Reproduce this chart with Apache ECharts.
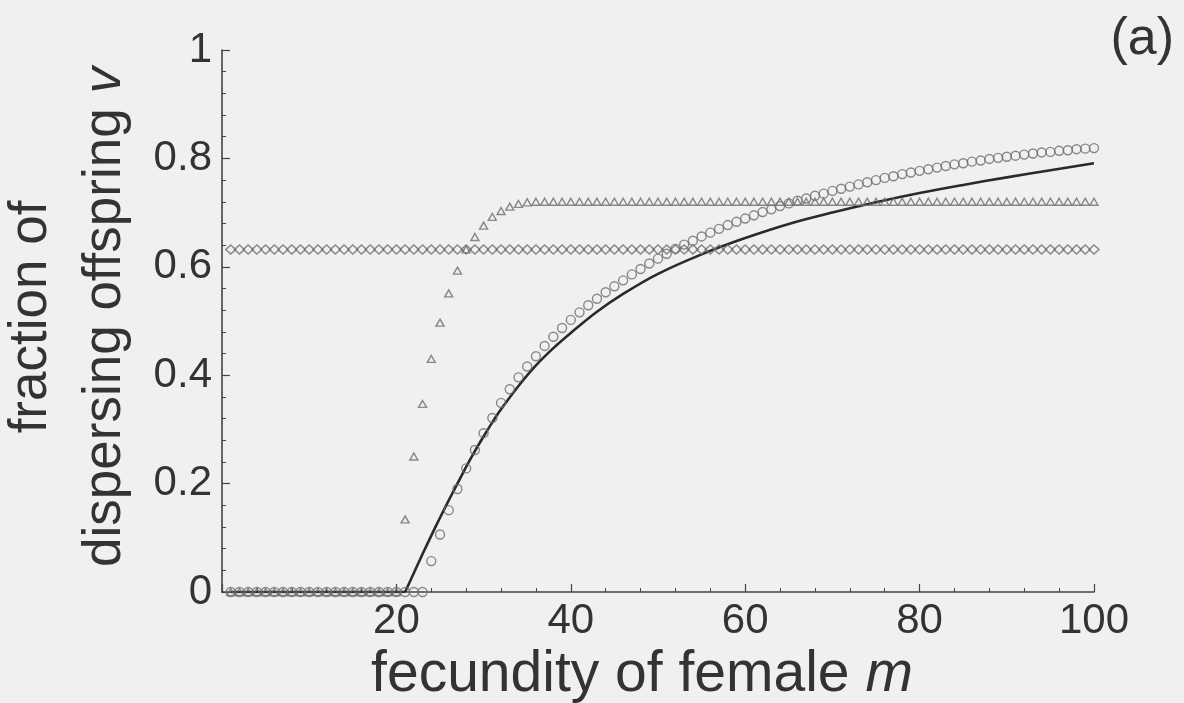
<!DOCTYPE html>
<html>
<head>
<meta charset="utf-8">
<script src="https://cdn.jsdelivr.net/npm/echarts@6/dist/echarts.min.js"></script>
<style>
html,body{margin:0;padding:0;background:#f1eff1;}
#chart{width:1184px;height:703px;}
</style>
</head>
<body>
<div id="chart"></div>
<script>
// fecundity m runs 1..100 (one value per m in each marker series)
const mStart = 1;

// diamonds: constant dispersal fraction
const diamondValues = [
0.632,0.632,0.632,0.632,0.632,0.632,0.632,0.632,0.632,0.632,
0.632,0.632,0.632,0.632,0.632,0.632,0.632,0.632,0.632,0.632,
0.632,0.632,0.632,0.632,0.632,0.632,0.632,0.632,0.632,0.632,
0.632,0.632,0.632,0.632,0.632,0.632,0.632,0.632,0.632,0.632,
0.632,0.632,0.632,0.632,0.632,0.632,0.632,0.632,0.632,0.632,
0.632,0.632,0.632,0.632,0.632,0.632,0.632,0.632,0.632,0.632,
0.632,0.632,0.632,0.632,0.632,0.632,0.632,0.632,0.632,0.632,
0.632,0.632,0.632,0.632,0.632,0.632,0.632,0.632,0.632,0.632,
0.632,0.632,0.632,0.632,0.632,0.632,0.632,0.632,0.632,0.632,
0.632,0.632,0.632,0.632,0.632,0.632,0.632,0.632,0.632,0.632
];

// triangles
const triangleValues = [
0,0,0,0,0,0,0,0,0,0,
0,0,0,0,0,0,0,0,0,0,
0.134,0.25,0.347,0.43,0.497,0.551,0.593,0.632,0.655,0.676,
0.692,0.703,0.711,0.716,0.719,0.72,0.72,0.72,0.72,0.72,
0.72,0.72,0.72,0.72,0.72,0.72,0.72,0.72,0.72,0.72,
0.72,0.72,0.72,0.72,0.72,0.72,0.72,0.72,0.72,0.72,
0.72,0.72,0.72,0.72,0.72,0.72,0.72,0.72,0.72,0.72,
0.72,0.72,0.72,0.72,0.72,0.72,0.72,0.72,0.72,0.72,
0.72,0.72,0.72,0.72,0.72,0.72,0.72,0.72,0.72,0.72,
0.72,0.72,0.72,0.72,0.72,0.72,0.72,0.72,0.72,0.72
];

// circles
const circleValues = [
0,0,0,0,0,0,0,0,0,0,
0,0,0,0,0,0,0,0,0,0,
0,0,0,0.057,0.106,0.151,0.19,0.228,0.262,0.293,
0.321,0.349,0.374,0.396,0.416,0.435,0.454,0.471,0.487,0.502,
0.516,0.529,0.541,0.553,0.564,0.575,0.586,0.596,0.606,0.615,
0.624,0.633,0.641,0.648,0.656,0.663,0.67,0.677,0.683,0.689,
0.695,0.701,0.706,0.712,0.717,0.722,0.726,0.731,0.735,0.74,
0.744,0.748,0.752,0.756,0.76,0.764,0.767,0.771,0.774,0.777,
0.78,0.783,0.786,0.789,0.791,0.794,0.796,0.799,0.801,0.803,
0.805,0.807,0.809,0.811,0.812,0.814,0.815,0.817,0.818,0.819
];

// solid curve: flat part, then the rising part read at these m
const flatM = [1,21];
const flatV = [0,0];
const curveM = [21,22,23,24,25,26,27,28,29,30,31,32,34,36,38,40,43,46,50,55,60,65,70,75,80,85,90,95,100];
const curveV = [0,0.035,0.07,0.104,0.137,0.169,0.2,0.231,0.26,0.287,0.313,0.337,0.38,0.418,0.45,0.478,0.517,0.55,0.587,0.623,0.653,0.679,0.70,0.719,0.736,0.751,0.765,0.778,0.791];

const xTicks = [0,20,40,60,80,100];
const yTicks = [0,0.2,0.4,0.6,0.8,1];

const pairs = vals => vals.map((v,i)=>[mStart+i, v]);
const zipXY = (xs, ys) => xs.map((x,i)=>[x, ys[i]]);

const textColor = '#333';
const axisColor = '#444';
const markerColor = '#6e6e6e';
const markerStyle = {color:'rgba(0,0,0,0)', borderColor:markerColor, borderWidth:1.4};
const font = 'Liberation Sans, Arial, sans-serif';
const curveStyle = {color:'#2a2a2a', width:2.6};

const chart = echarts.init(document.getElementById('chart'), null, {renderer:'canvas'});
chart.setOption({
  backgroundColor:'#f1eff1',
  animation:false,
  grid:{left:222, right:90, top:50, bottom:111, containLabel:false, outerBoundsMode:'none'},
  xAxis:{
    type:'value', min:xTicks[0], max:xTicks[xTicks.length-1], interval:20,
    axisLine:{show:true, onZero:false, lineStyle:{color:axisColor, width:1.6}},
    axisTick:{show:true, inside:true, length:8, lineStyle:{color:axisColor, width:1.2}},
    minorTick:{show:true, splitNumber:5, length:4, lineStyle:{color:axisColor, width:1}},
    splitLine:{show:false},
    axisLabel:{
      fontFamily:font, fontSize:42, color:textColor, margin:8,
      formatter: v => (v===0 ? '' : String(v))
    },
    name:'fecundity of female {i|m}',
    nameLocation:'middle', nameGap:45,
    nameTextStyle:{fontFamily:font, fontSize:57, color:textColor,
      padding:[0,32,0,0],
      rich:{i:{fontStyle:'italic', fontFamily:font, fontSize:57, color:textColor}}}
  },
  yAxis:{
    type:'value', min:yTicks[0], max:yTicks[yTicks.length-1], interval:0.2,
    axisLine:{show:true, onZero:false, lineStyle:{color:axisColor, width:1.6}},
    axisTick:{show:true, inside:true, length:8, lineStyle:{color:axisColor, width:1.2}},
    minorTick:{show:true, splitNumber:5, length:4, lineStyle:{color:axisColor, width:1}},
    splitLine:{show:false},
    axisLabel:{
      fontFamily:font, fontSize:42, color:textColor, margin:10,
      formatter: v => (v===0 ? '0' : (v===1 ? '1' : v.toFixed(1)))
    },
    name:'fraction of\ndispersing offspring {i|v}',
    nameLocation:'middle', nameRotate:90, nameGap:75,
    nameTextStyle:{fontFamily:font, fontSize:53, color:textColor,
      lineHeight:74, align:'center', padding:[0,0,0,8],
      rich:{i:{fontStyle:'italic', fontFamily:font, fontSize:53, color:textColor, lineHeight:74}}}
  },
  graphic:[{
    type:'text', right:10, top:14,
    style:{text:'(a)', font:'52px "Liberation Sans", Arial, sans-serif', fill:textColor}
  }],
  series:[
    {type:'line', data:zipXY(flatM, flatV), showSymbol:false, symbol:'none', lineStyle:curveStyle, z:3},
    {type:'line', data:zipXY(curveM, curveV), smooth:0.35,
     showSymbol:false, symbol:'none', lineStyle:curveStyle, z:3},
    {type:'scatter', data:pairs(diamondValues), symbol:'diamond', symbolSize:[10,9], itemStyle:markerStyle, z:4},
    {type:'scatter', data:pairs(triangleValues), symbol:'triangle', symbolSize:[8,7], itemStyle:markerStyle, z:4},
    {type:'scatter', data:pairs(circleValues), symbol:'circle', symbolSize:9, itemStyle:markerStyle, z:4}
  ]
});
</script>
</body>
</html>
